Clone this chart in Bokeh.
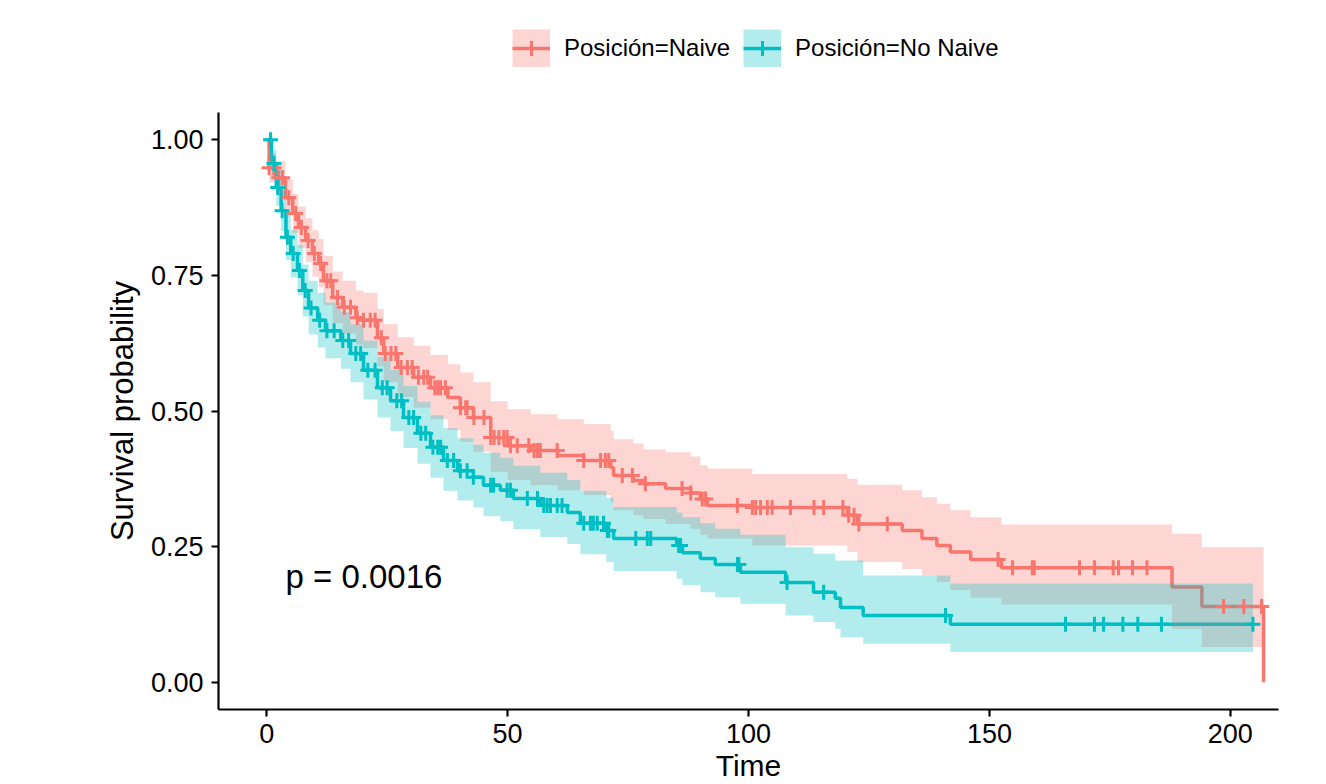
import numpy as np
from bokeh.plotting import figure
from bokeh.layouts import column
from bokeh.models import (Range1d, FixedTicker, Label, Legend, LegendItem,
                          NumeralTickFormatter)
from bokeh.embed import file_html
from bokeh.resources import INLINE

# ---------------- data ----------------
groups = ["Posición=Naive", "Posición=No Naive"]
colors = ["#F8766D", "#00BFC4"]

naive_time = [0, 0.5, 1.9, 3.9, 5.4, 6.6, 8.1, 9.5, 10.8, 11.8, 13.7, 15.8, 18.5, 20.1,
              23.0, 24.3, 27.2, 30.5, 34.0, 37.6, 40.2, 42.9, 46.5, 50.0, 54.8, 60.4,
              65.8, 71.4, 72.0, 76.1, 78.2, 82.8, 88.0, 90.0, 91.5, 100.8, 120.5, 122.6,
              131.9, 136.0, 139.1, 141.9, 146.1, 152.5, 187.9, 194.1, 206.9]
naive_surv = [1.0, 0.948, 0.930, 0.893, 0.864, 0.838, 0.814, 0.790, 0.772, 0.740, 0.709,
              0.691, 0.672, 0.667, 0.635, 0.606, 0.580, 0.562, 0.543, 0.525, 0.506, 0.488,
              0.451, 0.436, 0.427, 0.418, 0.409, 0.396, 0.381, 0.372, 0.366, 0.357, 0.349,
              0.338, 0.326, 0.322, 0.308, 0.292, 0.280, 0.265, 0.252, 0.240, 0.2265, 0.211,
              0.1755, 0.140, 0.0]
naive_lower = [1.0, 0.922, 0.900, 0.860, 0.828, 0.800, 0.774, 0.748, 0.728, 0.695, 0.662,
               0.643, 0.622, 0.616, 0.583, 0.553, 0.526, 0.506, 0.485, 0.465, 0.443, 0.425,
               0.388, 0.373, 0.363, 0.354, 0.345, 0.332, 0.317, 0.308, 0.301, 0.292, 0.283,
               0.272, 0.265, 0.252, 0.240, 0.222, 0.209, 0.197, 0.185, 0.170, 0.156, 0.1436,
               0.099, 0.065, None]
naive_upper = [1.0, 0.975, 0.960, 0.927, 0.900, 0.877, 0.855, 0.833, 0.817, 0.786, 0.757,
               0.740, 0.722, 0.718, 0.688, 0.660, 0.636, 0.620, 0.603, 0.586, 0.571, 0.553,
               0.518, 0.503, 0.494, 0.485, 0.476, 0.463, 0.448, 0.440, 0.429, 0.424, 0.416,
               0.400, 0.394, 0.384, 0.375, 0.364, 0.354, 0.341, 0.329, 0.317, 0.304, 0.291,
               0.274, 0.249, None]
naive_censor = [0.5, 1.5, 2.5, 3.3, 4.6, 6.0, 7.2, 8.6, 9.9, 11.2, 12.5, 13.3, 14.7, 16.1,
                17.4, 18.8, 20.1, 21.5, 22.5, 23.8, 24.6, 25.8, 26.8, 27.9, 29.2, 30.2,
                31.5, 32.6, 33.4, 34.9, 35.5, 36.1, 37.1, 40.2, 41.3, 41.6, 43.0, 45.1,
                46.5, 47.2, 48.2, 49.2, 49.9, 50.6, 52.0, 54.4, 55.5, 56.2, 56.8, 60.3,
                65.8, 69.3, 70.3, 71.0, 73.8, 75.9, 78.6, 86.2, 88.0, 90.4, 91.1, 97.7,
                100.8, 101.5, 102.5, 103.9, 104.9, 108.7, 113.6, 115.6, 119.6, 120.8,
                121.9, 122.9, 128.8, 151.8, 154.8, 158.9, 159.3, 168.7, 171.8, 175.7,
                176.8, 179.7, 182.7, 198.6, 202.8, 206.5]

nonaive_time = [0, 1.0, 2.0, 3.0, 4.0, 5.0, 6.4, 7.5, 8.7, 10.6, 12.2, 15.4, 17.4, 20.1,
                23.0, 25.7, 28.4, 31.3, 34.0, 36.7, 39.6, 42.9, 45.0, 48.5, 51.2, 56.8,
                62.4, 65.1, 70.5, 72.0, 85.1, 86.3, 90.0, 93.1, 98.3, 107.7, 113.5, 118.0,
                119.1, 123.8, 141.9, 204.7]
nonaive_surv = [1.0, 0.956, 0.912, 0.869, 0.820, 0.790, 0.759, 0.722, 0.690, 0.667, 0.648,
                0.630, 0.606, 0.575, 0.543, 0.519, 0.488, 0.459, 0.433, 0.409, 0.390, 0.378,
                0.363, 0.354, 0.339, 0.326, 0.313, 0.293, 0.280, 0.265, 0.252, 0.239, 0.228,
                0.217, 0.203, 0.184, 0.166, 0.155, 0.138, 0.123, 0.107, 0.107]
nonaive_lower = [1.0, 0.930, 0.878, 0.831, 0.778, 0.746, 0.713, 0.674, 0.641, 0.617, 0.597,
                 0.578, 0.553, 0.521, 0.488, 0.463, 0.432, 0.403, 0.377, 0.353, 0.335, 0.322,
                 0.306, 0.297, 0.282, 0.268, 0.255, 0.236, 0.222, 0.205, 0.191, 0.179, 0.166,
                 0.157, 0.145, 0.123, 0.111, 0.099, 0.083, 0.071, 0.056, 0.056]
nonaive_upper = [1.0, 0.982, 0.945, 0.906, 0.862, 0.834, 0.806, 0.770, 0.740, 0.718, 0.700,
                 0.682, 0.660, 0.630, 0.599, 0.576, 0.546, 0.517, 0.492, 0.468, 0.450, 0.438,
                 0.423, 0.414, 0.399, 0.386, 0.373, 0.353, 0.340, 0.323, 0.313, 0.304, 0.293,
                 0.283, 0.272, 0.249, 0.237, 0.2247, 0.2247, 0.197, 0.182, 0.182]
nonaive_censor = [0.8, 1.5, 2.3, 3.2, 4.3, 5.5, 6.8, 8.0, 9.2, 11.0, 12.5, 14.0, 15.8, 17.0,
                  18.5, 19.5, 21.0, 22.5, 24.0, 25.0, 27.0, 28.0, 29.5, 30.5, 32.0, 33.0,
                  34.5, 35.5, 36.1, 37.5, 38.8, 40.2, 41.6, 42.9, 46.5, 47.1, 49.9, 50.6,
                  54.1, 56.2, 57.5, 58.2, 58.9, 60.3, 61.3, 65.8, 67.2, 67.8, 68.6, 69.9,
                  70.7, 71.0, 76.6, 79.0, 79.7, 85.5, 85.9, 97.7, 98.0, 108.0, 115.6, 140.9,
                  165.8, 171.8, 173.7, 177.7, 180.8, 185.7, 204.7]

x_ticks = [0, 50, 100, 150, 200]
y_ticks = [0.0, 0.25, 0.5, 0.75, 1.0]
pval_text = "p = 0.0016"
pval_pos = (3.9, 0.195)
x_label = "Time"
y_label = "Survival probability"

FONT = "Liberation Sans"
LINE_W = 3.5
CROSS_SIZE = 15
CROSS_W = 3

# ---------------- legend strip (top) ----------------
leg = figure(width=1326, height=112, output_backend="svg", toolbar_location=None,
             x_range=Range1d(0, 1), y_range=Range1d(0, 1),
             x_axis_type=None, y_axis_type=None,
             min_border_left=0, min_border_right=0, min_border_top=0,
             min_border_bottom=0)
leg.outline_line_color = None
leg.xgrid.visible = False
leg.ygrid.visible = False

# legend-only renderers: their single point lies outside the strip's ranges
items = []
for g, col in zip(groups, colors):
    sw = leg.line(x=[-5, -4], y=[-5, -5], line_color=col, line_alpha=0.3,
                  line_width=38, line_cap="butt")
    ln = leg.line(x=[-5, -4], y=[-5, -5], line_color=col, line_width=LINE_W)
    cr = leg.scatter(x=[-5], y=[-5], marker="cross", size=CROSS_SIZE,
                     line_color=col, line_width=CROSS_W)
    items.append(LegendItem(label=g, renderers=[sw, ln, cr]))

legend = Legend(
    items=items, orientation="horizontal", location=(294, 45),
    glyph_width=38, glyph_height=38, label_standoff=14, spacing=13,
    padding=0, margin=0, border_line_alpha=0, background_fill_alpha=0,
    label_text_font=FONT, label_text_font_size="24px", label_text_color="black")
leg.add_layout(legend, "center")

# ---------------- main plot ----------------
p = figure(width=1326, height=672, output_backend="svg", toolbar_location=None,
           x_range=Range1d(-10, 210), y_range=Range1d(-0.05, 1.05),
           min_border_left=218, min_border_right=48, min_border_top=0,
           min_border_bottom=75)
p.outline_line_color = None
p.xgrid.visible = False
p.ygrid.visible = False
p.background_fill_color = "white"

series = [
    (naive_time, naive_surv, naive_lower, naive_upper, naive_censor),
    (nonaive_time, nonaive_surv, nonaive_lower, nonaive_upper, nonaive_censor),
]

for (t, s, lo, up, c), col in zip(series, colors):
    p.step(x=t, y=s, mode="after", line_color=col, line_width=LINE_W)
for (t, s, lo, up, c), col in zip(series, colors):
    lo_a = np.array([np.nan if v is None else v for v in lo], float)
    up_a = np.array([np.nan if v is None else v for v in up], float)
    for arr in (lo_a, up_a):
        if np.isnan(arr[-1]):
            arr[-1] = arr[-2]
    p.varea_step(x=t, y1=lo_a, y2=up_a, step_mode="after",
                 fill_color=col, fill_alpha=0.3)
for (t, s, lo, up, c), col in zip(series, colors):
    t_a = np.array(t, float)
    s_a = np.array(s, float)
    idx = np.searchsorted(t_a, np.array(c, float), side="right") - 1
    p.scatter(x=c, y=s_a[idx], marker="cross", size=CROSS_SIZE, line_color=col,
              line_width=CROSS_W)

for ax in (p.xaxis[0], p.yaxis[0]):
    ax.axis_line_color = "black"
    ax.axis_line_width = 2.2
    ax.major_tick_line_color = "black"
    ax.major_tick_line_width = 2.2
    ax.major_tick_out = 7
    ax.major_tick_in = 0
    ax.minor_tick_line_color = None
    ax.major_label_text_font = FONT
    ax.major_label_text_font_size = "27px"
    ax.major_label_text_color = "black"
    ax.axis_label_text_font = FONT
    ax.axis_label_text_font_size = "31px"
    ax.axis_label_text_font_style = "normal"
    ax.axis_label_text_color = "black"

p.xaxis.ticker = FixedTicker(ticks=x_ticks)
p.yaxis.ticker = FixedTicker(ticks=y_ticks)
p.yaxis.formatter = NumeralTickFormatter(format="0.00")
p.xaxis.major_label_standoff = 7
p.xaxis.axis_label = x_label
p.xaxis.axis_label_text_font_size = "30px"
p.xaxis.axis_label_standoff = 3
p.yaxis.major_label_standoff = 8
p.yaxis.axis_label = y_label
p.yaxis.axis_label_standoff = 8

p.add_layout(Label(x=pval_pos[0], y=pval_pos[1], text=pval_text, text_align="left",
                   text_baseline="alphabetic", text_font=FONT,
                   text_font_size="33px", text_color="black"))

open("out.html", "w").write(file_html(column(leg, p), INLINE))
